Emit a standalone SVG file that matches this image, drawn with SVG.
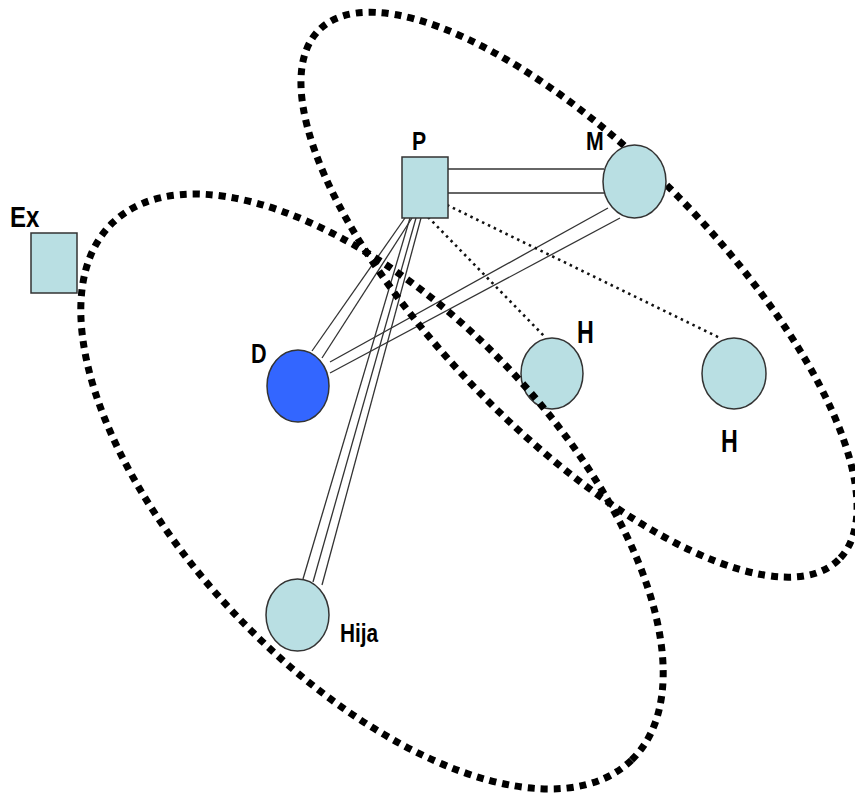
<svg xmlns="http://www.w3.org/2000/svg" width="855" height="802" viewBox="0 0 855 802">
<style>
.node{fill:#B9DFE3;stroke:#333;stroke-width:1.5}
.d{fill:#3366FF;stroke:#333;stroke-width:1.5}
.ln{stroke:#333;stroke-width:1.3;fill:none}
.dot{stroke:#111;stroke-width:2.6;stroke-dasharray:2.5 4;fill:none}
.grp{fill:none;stroke:#000;stroke-width:7;stroke-dasharray:7 6}
.lbl{font-family:"Liberation Sans",Arial,sans-serif;font-weight:bold;fill:#000}
</style>
<rect width="855" height="802" fill="#fff"/>
<g id="connectors">
<line class="ln" x1="448" y1="169" x2="604" y2="169"/>
<line class="ln" x1="448" y1="193" x2="604" y2="193"/>
<line class="ln" x1="405" y1="218" x2="312" y2="351"/>
<line class="ln" x1="412" y1="218" x2="322" y2="358"/>
<line class="ln" x1="410" y1="218" x2="303" y2="579"/>
<line class="ln" x1="416" y1="218" x2="313" y2="582"/>
<line class="ln" x1="421" y1="218" x2="322" y2="585"/>
<line class="ln" x1="608" y1="208" x2="330" y2="362"/>
<line class="ln" x1="620" y1="218" x2="330" y2="373"/>
<line class="dot" x1="428" y1="217" x2="545" y2="337"/>
<line class="dot" x1="447" y1="205" x2="720" y2="338"/>
</g>
<g id="node-P"><rect class="node" x="402" y="157" width="46" height="61"/><text class="lbl" transform="translate(412,150) scale(0.85,1)" font-size="25">P</text></g>
<g id="node-Ex"><rect class="node" x="31" y="233" width="46" height="60"/><text class="lbl" transform="translate(10,227) scale(0.8,1)" font-size="30">Ex</text></g>
<g id="node-D"><ellipse class="d" cx="298" cy="386" rx="31" ry="36"/><text class="lbl" transform="translate(251,363) scale(0.8,1)" font-size="27">D</text></g>
<g id="node-H1"><ellipse class="node" cx="552" cy="373.5" rx="31" ry="35.5"/><text class="lbl" transform="translate(577,343) scale(0.75,1)" font-size="31">H</text></g>
<g id="node-H2"><ellipse class="node" cx="734" cy="373.5" rx="32" ry="35.5"/><text class="lbl" transform="translate(721,452) scale(0.75,1)" font-size="31">H</text></g>
<g id="node-Hija"><ellipse class="node" cx="297.5" cy="615" rx="31.5" ry="36"/><text class="lbl" transform="translate(340,642) scale(0.8,1)" font-size="26">Hija</text></g>
<g id="groups">
<ellipse class="grp" cx="372" cy="491.5" rx="373.5" ry="183.8" transform="rotate(46 372 491.5)"/>
<ellipse class="grp" cx="579" cy="294.7" rx="371" ry="139.5" transform="rotate(45.6 579 294.7)"/>
</g>
<g id="node-M"><ellipse class="node" cx="634.5" cy="181.5" rx="31.5" ry="36.5"/><text class="lbl" transform="translate(586,150) scale(0.85,1)" font-size="25">M</text></g>
</svg>
